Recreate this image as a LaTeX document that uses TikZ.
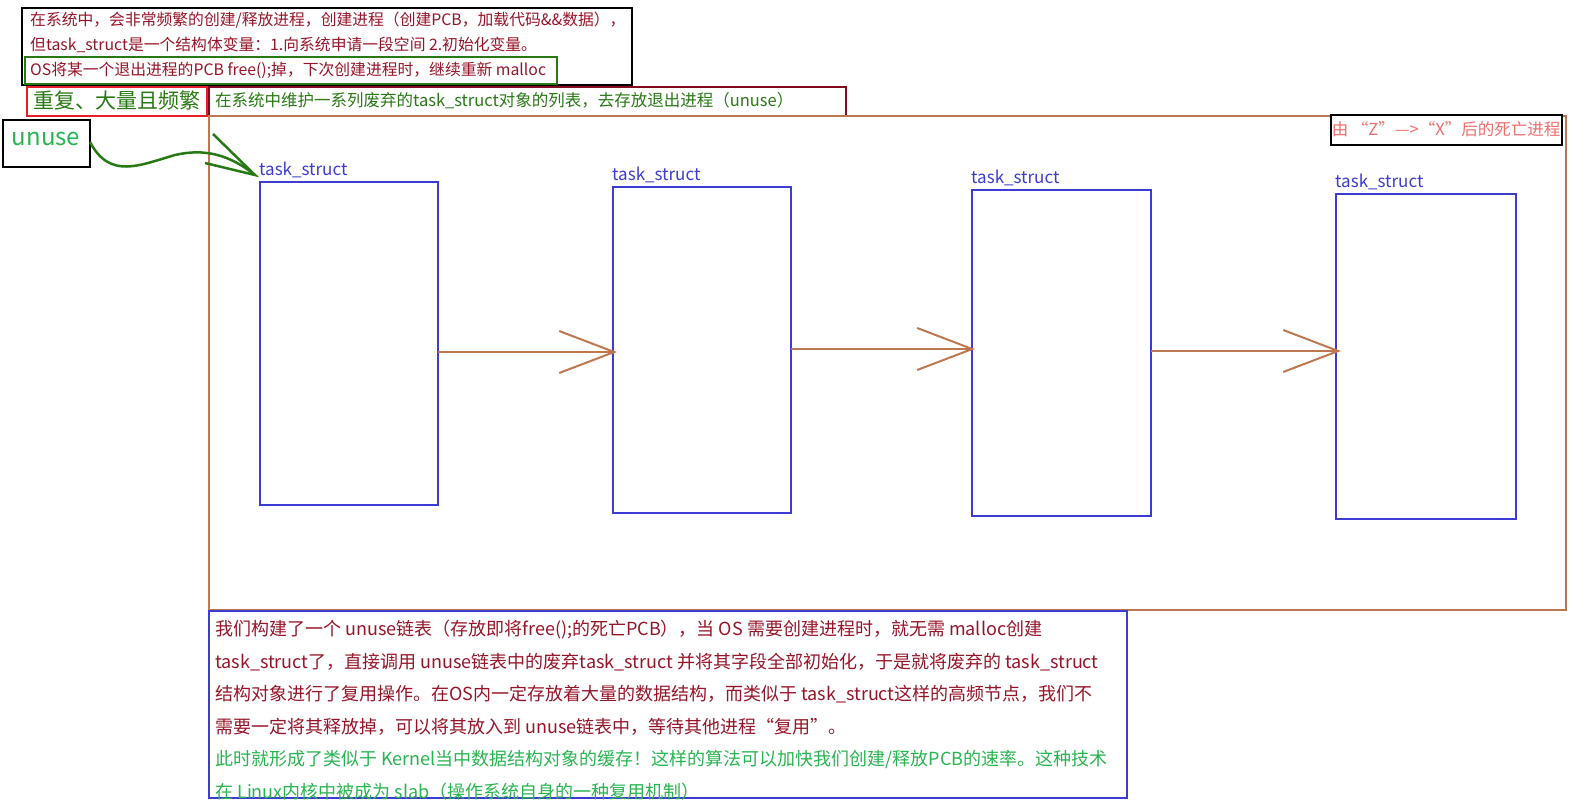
\documentclass[tikz,border=0pt]{standalone}
\usepackage{fontspec}
\setmainfont{Noto Sans CJK SC}
\usetikzlibrary{arrows.meta}
\definecolor{dred}{RGB}{150,20,40}
\definecolor{tgreen}{RGB}{40,180,80}
\definecolor{bgreen}{RGB}{40,120,20}
\definecolor{brown1}{RGB}{190,120,80}
\definecolor{blue1}{RGB}{60,60,210}
\definecolor{pink1}{RGB}{240,110,110}
\definecolor{red1}{RGB}{230,30,40}
\definecolor{bord}{RGB}{130,10,30}
\begin{document}
\begin{tikzpicture}[x=1pt,y=-1pt,
  tbox/.style={draw=blue1,line width=2pt},
  tlab/.style={text=blue1,font=\fontsize{17}{19}\selectfont,anchor=south west,inner sep=1pt},
  link/.style={draw=brown1,line width=2.5pt,-{Straight Barb[length=55pt,width=42pt,line width=2pt]}},
  topt/.style={anchor=west,text=dred,font=\fontsize{15.8}{17}\selectfont,inner sep=0}]
\useasboundingbox (0,0) rectangle (1572,804);
% top boxes
\draw[line width=2.5pt] (22,8) rectangle (632,85);
\node[topt] (t1) at (30,20) {在系统中，会非常频繁的创建/释放进程，创建进程（创建PCB，加载代码\&\&数据），};
\node[topt] (t2) at (30,45) {但task\_struct是一个结构体变量：1.向系统申请一段空间 2.初始化变量。};
\draw[bgreen,line width=2.5pt] (25,57) rectangle (557,84);
\node[topt] (t3) at (30,70) {OS将某一个退出进程的PCB free();掉，下次创建进程时，继续重新 malloc};
\draw[red1,line width=2.5pt] (27,87) rectangle (207,116);
\node[text=bgreen,font=\fontsize{21}{23}\selectfont,inner sep=0] (rep) at (117,101) {重复、大量且频繁};
\draw[bord,line width=2.5pt] (209,87) rectangle (846,116);
\node[anchor=west,text=bgreen,font=\fontsize{16.5}{18}\selectfont,inner sep=0] (main) at (215,101) {在系统中维护一系列废弃的task\_struct对象的列表，去存放退出进程（unuse）};
% big frame
\draw[brown1,line width=2.5pt] (209,116) rectangle (1566,610);
\draw[line width=2.5pt,fill=white] (1331,115) rectangle (1562,145);
\node[text=pink1,font=\fontsize{16.5}{18}\selectfont,inner sep=0] (dead) at (1446,129) {由 “Z”--->“X”后的死亡进程};
% unuse
\draw[line width=2.5pt] (3,120) rectangle (90,167);
\node[text=tgreen,font=\fontsize{24}{26}\selectfont,inner sep=0] (unuse) at (46,139) {unuse};
% task boxes
\draw[tbox] (260,182) rectangle (438,505); \node[tlab] (l1) at (258,179) {task\_struct};
\draw[tbox] (613,187) rectangle (791,513); \node[tlab] (l2) at (611,184) {task\_struct};
\draw[tbox] (972,190) rectangle (1151,516); \node[tlab] (l3) at (970,187) {task\_struct};
\draw[tbox] (1336,194) rectangle (1516,519); \node[tlab] (l4) at (1334,191) {task\_struct};
\coordinate (a1) at (438,352); \coordinate (b1) at (617,352);
\coordinate (a2) at (791,349); \coordinate (b2) at (975,349);
\coordinate (a3) at (1151,351); \coordinate (b3) at (1341,351);
\draw[link] (a1) -- (b1);
\draw[link] (a2) -- (b2);
\draw[link] (a3) -- (b3);
% green curved arrow
\coordinate (u0) at (90,142); \coordinate (u1) at (255,175);
\draw[bgreen,line width=2.5pt] (u0) .. controls (110,180) and (140,165) .. (175,155) .. controls (205,148) and (230,155) .. (u1);
\draw[bgreen,line width=2.5pt] (213,134) -- (u1) -- (205,163);
% bottom box
\draw[blue1,line width=2.5pt] (209,611) rectangle (1127,798);
\node[anchor=north west,align=left,inner sep=0,font=\fontsize{18}{29.5}\selectfont] (bt) at (215,620) {%
\textcolor{dred}{我们构建了一个 unuse链表（存放即将free();的死亡PCB），当 OS 需要创建进程时，就无需 malloc创建}\\[3pt]
\textcolor{dred}{task\_struct了，直接调用 unuse链表中的废弃task\_struct 并将其字段全部初始化，于是就将废弃的 task\_struct}\\[3pt]
\textcolor{dred}{结构对象进行了复用操作。在OS内一定存放着大量的数据结构，而类似于 task\_struct这样的高频节点，我们不}\\[3pt]
\textcolor{dred}{需要一定将其释放掉，可以将其放入到 unuse链表中，等待其他进程“复用”。}\\[3pt]
\textcolor{tgreen}{此时就形成了类似于 Kernel当中数据结构对象的缓存！这样的算法可以加快我们创建/释放PCB的速率。这种技术}\\[3pt]
\textcolor{tgreen}{在 Linux内核中被成为 slab（操作系统自身的一种复用机制）}};
\end{tikzpicture}
\end{document}
